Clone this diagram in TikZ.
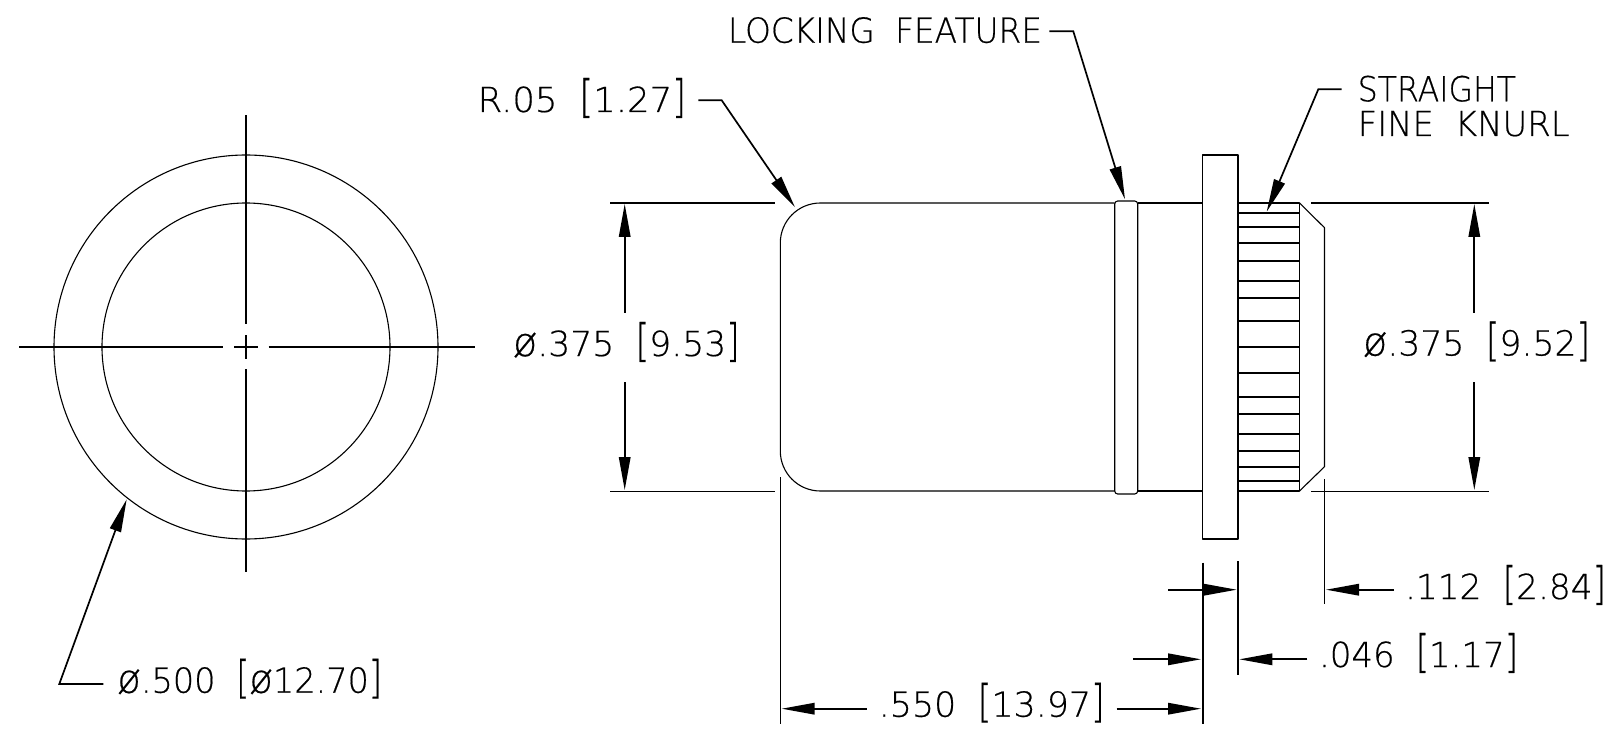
\documentclass[tikz,border=0pt]{standalone}
\usepackage{graphicx}
\usepackage{fontspec}
\setmainfont{DejaVu Sans ExtraLight}[FakeBold=0.5]
\usetikzlibrary{arrows.meta}
\newcommand{\gapw}{\hspace{0.62em}}
\newcommand{\lb}{\scalebox{1}[1.3]{[}}
\newcommand{\rb}{\scalebox{1}[1.3]{]}}
\newcommand{\dia}{\scalebox{1.15}{ø}}
\tikzset{
  part/.style={line width=1.1pt,line join=round},
  thick line/.style={line width=1.6pt},
  arr/.style={line width=1.7pt,-{Triangle[length=33pt,width=11.5pt]}},
  lbl/.style={anchor=base west,inner sep=0pt,outer sep=0pt,font=\fontsize{34.5pt}{36pt}\selectfont},
}
\begin{document}
\begin{tikzpicture}[x=1pt,y=-1pt]
\useasboundingbox[fill=white] (0,0) rectangle (1604,730);
% end view
\coordinate (c) at (246,347);
\draw[part] (c) circle[radius=192];
\draw[part] (c) circle[radius=144];
\draw[thick line] (19.3,347) -- (223.3,347) (234,347) -- (258,347) (268.7,347) -- (474.7,347);
\draw[thick line] (246,115.3) -- (246,324) (246,335) -- (246,359) (246,369) -- (246,572);
% side view
\draw[part,rounded corners=40pt] (1114.7,203) -- (780.3,203) -- (780.3,491) -- (1114.7,491);
\draw[part,rounded corners=3pt] (1114.7,201) rectangle (1137.7,494);
\draw[part] (1137.7,203) -- (1202.7,203) (1137.7,491) -- (1202.7,491);
\draw[part] (1202.7,155) rectangle (1238,539);
\draw[part] (1238,203) -- (1299.5,203) -- (1299.5,491) -- (1238,491);
\draw[part] (1299.5,203) -- (1324.5,227.7) -- (1324.5,466.7) -- (1299.5,491);
\foreach \k in {213,227,243,261,281,298,321,347,373,397,414,434,451,467,481}
  \draw[line width=1.3pt] (1238,\k) -- (1299.5,\k);
% extension lines
\draw[thick line] (610,203) -- (775,203) (610,491.5) -- (775,491.5);
\draw[thick line] (1311,203) -- (1489,203) (1311,491.5) -- (1489,491.5);
\draw[line width=1.3pt] (780.3,477) -- (780.3,724);
\draw[thick line] (1202.7,562.7) -- (1202.7,724);
\draw[thick line] (1238,561) -- (1238,675);
\draw[thick line] (1324.3,479) -- (1324.3,604);
% dimension arrows
\coordinate (la) at (624.7,312.7); \coordinate (lat) at (624.7,204);
\coordinate (lb) at (624.7,382.3); \coordinate (lbt) at (624.7,490);
\coordinate (ra) at (1474.3,312.7); \coordinate (rat) at (1474.3,204);
\coordinate (rb) at (1474.3,382.3); \coordinate (rbt) at (1474.3,490);
\draw[arr] (la) -- (lat);
\draw[arr] (lb) -- (lbt);
\draw[arr] (ra) -- (rat);
\draw[arr] (rb) -- (rbt);
\draw[arr] (1168.3,589.7) -- (1236.7,589.7);
\draw[arr] (1394,589.7) -- (1326,589.7);
\draw[arr] (1133.3,659.3) -- (1201,659.3);
\draw[arr] (1307.3,659.3) -- (1239.3,659.3);
\draw[arr] (866.7,708.7) -- (781.7,708.7);
\draw[arr] (1116.7,708.7) -- (1201,708.7);
% leaders
\draw[arr] (698.3,100.3) -- (721.7,100.3) -- (795,207.3);
\draw[arr] (1049.3,31.3) -- (1073.3,31.3) -- (1125,199.3);
\draw[arr] (1341.7,89.3) -- (1318.3,89.3) -- (1266.7,211.7);
\draw[arr] (103.3,684) -- (59.3,684) -- (126.7,499.3);
% labels
\node[lbl] (t1) at (728,42.7) {\resizebox{314pt}{\height}{LOCKING\gapw FEATURE}};
\node[lbl] (t2) at (477.7,112) {\resizebox{208.3pt}{\height}{R.05\gapw\lb1.27\rb}};
\node[lbl] (t3) at (1357.7,101.3) {\resizebox{158.3pt}{\height}{STRAIGHT}};
\node[lbl] (t4) at (1357.7,136) {\resizebox{212pt}{\height}{FINE\gapw KNURL}};
\node[lbl] (t5) at (513,356) {\resizebox{226.7pt}{\height}{\dia.375\gapw\lb9.53\rb}};
\node[lbl] (t6) at (1363,355.5) {\resizebox{227pt}{\height}{\dia.375\gapw\lb9.52\rb}};
\node[lbl] (t7) at (1405,599) {\resizebox{201pt}{\height}{.112\gapw\lb2.84\rb}};
\node[lbl] (t8) at (1319,667) {\resizebox{199pt}{\height}{.046\gapw\lb1.17\rb}};
\node[lbl] (t9) at (878.7,716.7) {\resizebox{226pt}{\height}{.550\gapw\lb13.97\rb}};
\node[lbl] (t10) at (117.3,692.7) {\resizebox{264.7pt}{\height}{\dia.500\gapw\lb\dia12.70\rb}};
\end{tikzpicture}
\end{document}
